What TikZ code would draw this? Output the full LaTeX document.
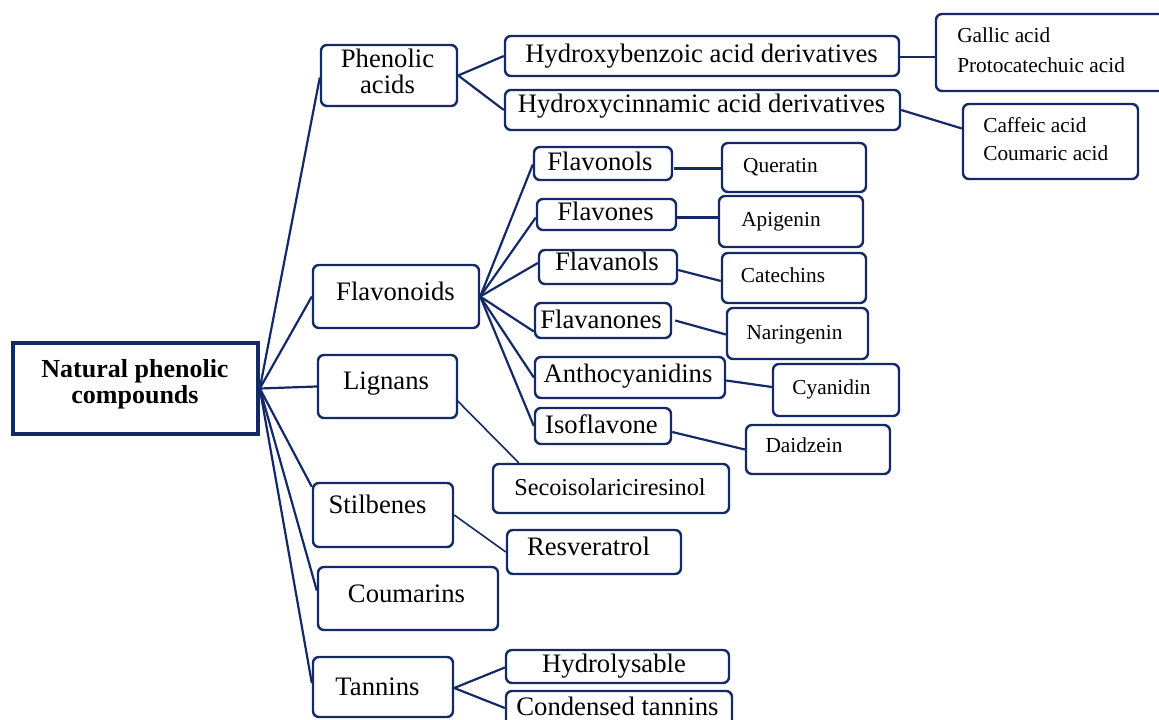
\documentclass[tikz,border=0pt]{standalone}
\usepackage{fontspec}
\setmainfont{Liberation Serif}
\usetikzlibrary{fit,calc}
\definecolor{navy}{RGB}{20,42,102}
\tikzset{
  box/.style={draw=navy, line width=1.8pt, rounded corners=4.5pt, inner sep=0pt},
  rootbox/.style={draw=navy, line width=2.7pt, inner sep=0pt},
  main/.style={anchor=base, inner sep=0pt, font=\fontsize{20}{24}\selectfont},
  small/.style={anchor=base, inner sep=0pt, font=\fontsize{16}{19}\selectfont},
  mid/.style={anchor=base, inner sep=0pt, font=\fontsize{18.2}{22}\selectfont},
  smallL/.style={anchor=base west, inner sep=0pt, font=\fontsize{16}{19}\selectfont},
  rootT/.style={anchor=base, inner sep=0pt, font=\fontsize{19.5}{23}\selectfont\bfseries},
  link/.style={draw=navy, line width=1.65pt},
  thin/.style={draw=navy, line width=1.2pt}
}
\newcommand\mybox[6][box]{\path (#3,#4) coordinate (#2-nw) (#5,#6) coordinate (#2-se);
  \node[#1, fit=(#2-nw)(#2-se)] (#2) {};}
\begin{document}
\begin{tikzpicture}[x=0.75pt,y=-0.75pt]
\useasboundingbox (0,0) rectangle (1159,720);
\clip (0,0) rectangle (1159,720);
% boxes
\mybox[rootbox]{rt}{13}{343}{258}{434}
\mybox{pa}{321}{45}{457}{106}
\mybox{hb}{505}{36}{899}{76}
\mybox{hc}{505}{90}{900}{130}
\mybox{ga}{936}{14}{1168}{91}
\mybox{cf}{963}{104}{1138}{179}
\mybox{fd}{313}{265}{479}{328}
\mybox{lg}{318}{355}{457}{418}
\mybox{st}{313}{483}{453}{547}
\mybox{cm}{318}{567}{498}{630}
\mybox{tn}{313}{657}{453}{717}
\mybox{fo}{534}{147}{672}{180}
\mybox{fv}{537}{199}{676}{230}
\mybox{fa}{539}{250}{677}{284}
\mybox{fn}{535}{303}{671}{338}
\mybox{an}{535}{357}{725}{398}
\mybox{is}{535}{408}{671}{444}
\mybox{qu}{722}{143}{866}{192}
\mybox{ap}{719}{196}{863}{247}
\mybox{ca}{722}{253}{866}{303}
\mybox{na}{727}{308}{868}{359}
\mybox{cy}{773}{364}{899}{416}
\mybox{da}{746}{425}{890}{474}
\mybox{se}{493}{464}{729}{513}
\mybox{rv}{507}{530}{681}{574}
\mybox{hy}{506}{650}{729}{683}
\mybox{cd}{506}{691}{732}{735}
% texts
\node[rootT] (rtT1) at (135,377) {Natural phenolic};
\node[rootT] (rtT2) at (135,403) {compounds};
\node[main] (paT1) at (387.5,68) {Phenolic};
\node[main] (paT2) at (387.5,94) {acids};
\node[main] (hbT) at (701.5,63) {Hydroxybenzoic acid derivatives};
\node[main] (hcT) at (701.5,113) {Hydroxycinnamic acid derivatives};
\node[smallL] (gaT1) at (957,43) {Gallic acid};
\node[smallL] (gaT2) at (957,73) {Protocatechuic acid};
\node[smallL] (cfT1) at (983,133) {Caffeic acid};
\node[smallL] (cfT2) at (983,161) {Coumaric acid};
\node[main] (fdT) at (395.5,300) {Flavonoids};
\node[main] (lgT) at (386,389) {Lignans};
\node[main] (stT) at (377.5,513) {Stilbenes};
\node[main] (cmT) at (406.5,602) {Coumarins};
\node[main] (tnT) at (377.5,695) {Tannins};
\node[main] (foT) at (600,171) {Flavonols};
\node[main] (fvT) at (605.5,221) {Flavones};
\node[main] (faT) at (607,270) {Flavanols};
\node[main] (fnT) at (601,328) {Flavanones};
\node[main] (anT) at (628,382) {Anthocyanidins};
\node[main] (isT) at (601.5,433) {Isoflavone};
\node[small] (quT) at (780.5,173) {Queratin};
\node[small] (apT) at (781,227) {Apigenin};
\node[small] (caT) at (783,282) {Catechins};
\node[small] (naT) at (794.5,339) {Naringenin};
\node[small] (cyT) at (831.5,394) {Cyanidin};
\node[small] (daT) at (804,452) {Daidzein};
\node[mid] (seT) at (610,495) {Secoisolariciresinol};
\node[main] (rvT) at (588.5,555) {Resveratrol};
\node[main] (hyT) at (614,672) {Hydrolysable};
\node[main] (cdT) at (617.5,715) {Condensed tannins};
% connectors from root
\draw[link] (rt.east) -- ($(pa.west)+(0,2)$);
\draw[link] (rt.east) -- (fd.west);
\draw[link] (rt.east) -- (lg.west);
\draw[link] (rt.east) -- ($(st.north west)+(0,5)$);
\draw[link] (rt.east) -- ($(cm.west)+(0,-8)$);
\draw[link] (rt.east) -- ($(tn.west)+(0,-4)$);
% phenolic acids
\draw[link] (pa.east) -- (hb.west);
\draw[link] (pa.east) -- (hc.west);
\draw[link] ($(hb.east)+(0,1)$) -- ($(hb.east -| ga.west)+(0,1)$);
\draw[link] (hc.east) -- ($(cf.west)+(0,-13)$);
% flavonoids
\draw[link] (fd.east) -- ($(fo.west)+(0,1)$);
\draw[link] (fd.east) -- ($(fv.west)+(0,3)$);
\draw[link] (fd.east) -- ($(fa.west)+(0,-4)$);
\draw[link] (fd.east) -- ($(fn.west)+(0,11)$);
\draw[link] (fd.east) -- (an.west);
\draw[link] (fd.east) -- (is.west);
\draw[link] ($(fo.east)+(1,5)$) -- ($(fo.east -| qu.west)+(0,5)$);
\draw[link] ($(fv.east)+(0,3)$) -- ($(fv.east -| ap.west)+(0,3)$);
\draw[link] ($(fa.east)+(0,3)$) -- ($(ca.west)+(0,3)$);
\draw[link] ($(fn.east)+(3,0)$) -- ($(na.west)+(0,1)$);
\draw[link] ($(an.east)+(0,3)$) -- ($(cy.west)+(0,-3)$);
\draw[link] ($(is.east)+(0,6)$) -- (da.west);
% lignans, stilbenes, tannins
\draw[thin] ($(lg.east)+(-2,13)$) -- ($(se.north west)+(27,0)$);
\draw[thin] (st.east) -- (rv.west);
\draw[link] ($(tn.east)+(0,1)$) -- ($(hy.west)+(0,1)$);
\draw[link] ($(tn.east)+(0,1)$) -- ($(cd.west)+(0,-5)$);
\end{tikzpicture}
\end{document}
